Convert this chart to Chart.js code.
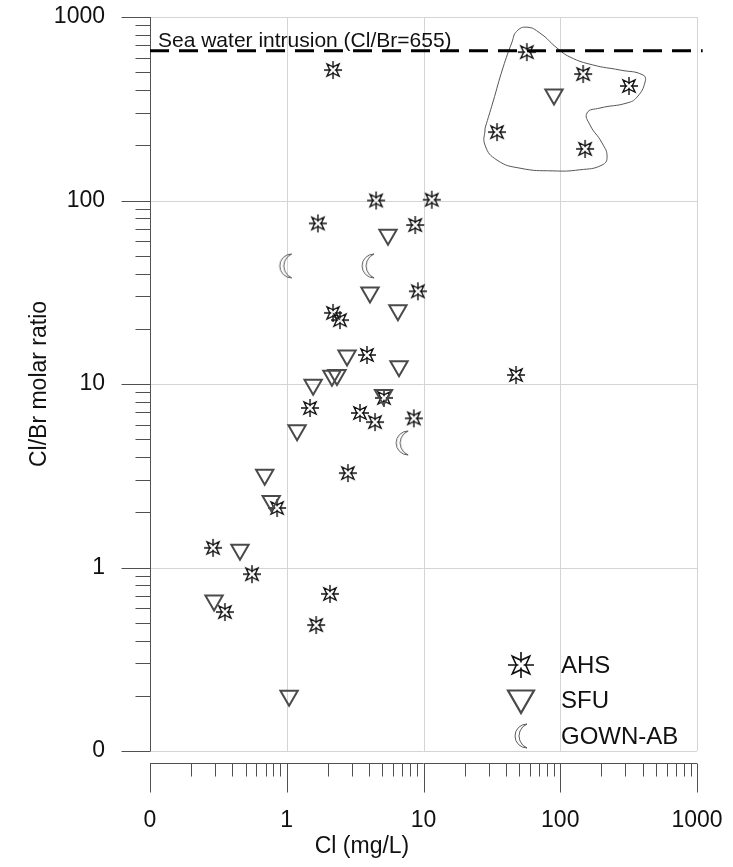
<!DOCTYPE html>
<html>
<head>
<meta charset="utf-8">
<script src="https://cdn.jsdelivr.net/npm/chart.js@4/dist/chart.umd.min.js"></script>
<style>
    html, body { margin: 0; padding: 0; background: #fff; }
    #wrap { width: 733px; height: 867px; }
</style>
</head>
<body>
<div id="wrap"><canvas id="ratioChart"></canvas></div>
<script>
// Cl (mg/L) vs Cl/Br molar ratio, one pair of arrays per sampling group
var ahsCl    = [2.18, 57, 147, 318, 34.5, 152, 4.5, 11.5, 1.69, 8.7, 9.1, 2.18, 2.45, 3.86, 47.5,
                5.14, 1.48, 3.43, 4.42, 8.5, 2.8, 0.85, 0.289, 0.557, 0.353, 2.07, 1.64];
var ahsRatio = [514, 644, 489, 421, 236, 191, 100, 101, 75, 73.5, 32, 24.4, 22.3, 14.4, 11.2,
                8.4, 7.4, 6.95, 6.2, 6.5, 3.27, 2.11, 1.28, 0.92, 0.572, 0.718, 0.486];

var sfuCl    = [90, 5.5, 4.06, 6.5, 2.76, 6.62, 2.14, 2.33, 1.56, 5.1, 1.19, 0.69, 0.77, 0.455, 0.294, 1.04];
var sfuRatio = [378, 65, 31.5, 25.2, 14.3, 12.5, 11.1, 11.2, 9.9, 8.7, 5.6, 3.2, 2.3, 1.25, 0.66, 0.2];

var gownCl    = [1.0, 4.0, 7.1];
var gownRatio = [44, 44, 4.77];

// sea water reference ratio
var seaWaterRatio = 655;
var seaWaterCl = [0.1, 1100];

// outline drawn around the high-Cl cluster
var clusterCl    = [28.2, 32.2, 38.1, 44.4, 48, 57, 71, 94.6, 118, 173, 274, 403, 417, 364, 308,
                    195, 157, 165, 202, 220, 202, 139, 88.5, 50.8, 34.5, 28.2, 28.2];
var clusterRatio = [248, 344, 528, 731, 835, 880, 818, 678, 605, 548, 514, 483, 442, 366, 340,
                    319, 300, 258, 206, 173, 156, 147, 145, 150, 166, 200, 248];

// axis ticks
var majorTicks = [0.1, 1, 10, 100, 1000];
var tickLabels = ['0', '1', '10', '100', '1000'];

var FONT = "'Liberation Sans', Arial, sans-serif";

function pairs(xs, ys) {
    return xs.map(function (x, i) { return { x: x, y: ys[i] }; });
}

// sparkle marker: four-point star with spikes on the axes
function makeStar(s, lw) {
    var n = Math.ceil(s * 2 + 4);
    var c = document.createElement('canvas');
    c.width = n; c.height = n;
    var g = c.getContext('2d');
    var m = n / 2;
    g.strokeStyle = '#111';
    g.lineWidth = lw;
    g.beginPath();
    for (var i = 0; i < 8; i++) {
        var a = i * Math.PI / 4 - Math.PI / 2;
        var r = (i % 2 === 0) ? s * 0.36 : s * 0.95;
        var px = m + r * Math.cos(a), py = m + r * Math.sin(a);
        if (i === 0) g.moveTo(px, py); else g.lineTo(px, py);
    }
    g.closePath();
    g.stroke();
    g.beginPath();
    g.moveTo(m, m - s); g.lineTo(m, m - s * 0.2);
    g.moveTo(m, m + s); g.lineTo(m, m + s * 0.2);
    g.moveTo(m - s, m); g.lineTo(m - s * 0.2, m);
    g.moveTo(m + s, m); g.lineTo(m + s * 0.2, m);
    g.stroke();
    return c;
}

// crescent marker opening to the right
function makeMoon(k) {
    var n = Math.ceil(30 * k);
    var c = document.createElement('canvas');
    c.width = n; c.height = n;
    var g = c.getContext('2d');
    var m = n / 2;
    g.strokeStyle = '#5a5a5a';
    g.lineWidth = 1;
    g.beginPath();
    g.arc(m + 5 * k, m, 12 * k, -Math.PI / 2, Math.PI / 2, true);
    var a1 = Math.atan2(12, -5);
    g.arc(m + 10 * k, m, 13 * k, a1, 2 * Math.PI - a1, false);
    g.closePath();
    g.stroke();
    return c;
}

var starMark = makeStar(9, 1.4);
var starLegend = makeStar(13, 1.6);
var moonMark = makeMoon(1);

var axesPlugin = {
    id: 'axesPlugin',
    beforeDatasetsDraw: function (chart) {
        var ctx = chart.ctx, area = chart.chartArea;
        var xs = chart.scales.x, ys = chart.scales.y;
        var minor = [];
        majorTicks.slice(0, -1).forEach(function (d) {
            for (var k = 2; k <= 9; k++) minor.push(d * k);
        });
        ctx.save();

        // decade grid and frame
        ctx.strokeStyle = '#d4d4d4';
        ctx.lineWidth = 1;
        ctx.beginPath();
        majorTicks.forEach(function (v) {
            var px = Math.round(xs.getPixelForValue(v)) + 0.5;
            var py = Math.round(ys.getPixelForValue(v)) + 0.5;
            ctx.moveTo(px, area.top); ctx.lineTo(px, area.bottom);
            ctx.moveTo(area.left, py); ctx.lineTo(area.right, py);
        });
        ctx.stroke();

        // y axis on the left
        var yl = Math.round(area.left) + 0.5;
        ctx.strokeStyle = '#505050';
        ctx.beginPath();
        ctx.moveTo(yl, area.top); ctx.lineTo(yl, area.bottom);
        majorTicks.forEach(function (v) {
            var py = Math.round(ys.getPixelForValue(v)) + 0.5;
            ctx.moveTo(yl - 29, py); ctx.lineTo(yl, py);
        });
        minor.forEach(function (v) {
            var py = Math.round(ys.getPixelForValue(v)) + 0.5;
            ctx.moveTo(yl - 15, py); ctx.lineTo(yl, py);
        });
        ctx.stroke();

        // x axis, set below the plot
        var xb = Math.round(area.bottom) + 12.5;
        ctx.beginPath();
        ctx.moveTo(area.left, xb); ctx.lineTo(area.right, xb);
        majorTicks.forEach(function (v) {
            var px = Math.round(xs.getPixelForValue(v)) + 0.5;
            ctx.moveTo(px, xb); ctx.lineTo(px, xb + 29);
        });
        minor.forEach(function (v) {
            var px = Math.round(xs.getPixelForValue(v)) + 0.5;
            ctx.moveTo(px, xb); ctx.lineTo(px, xb + 13);
        });
        ctx.stroke();

        // tick labels
        ctx.fillStyle = '#111';
        ctx.font = '23px ' + FONT;
        ctx.textAlign = 'right';
        ctx.textBaseline = 'middle';
        majorTicks.forEach(function (v, i) {
            ctx.fillText(tickLabels[i], area.left - 45, ys.getPixelForValue(v));
        });
        ctx.textAlign = 'center';
        majorTicks.forEach(function (v, i) {
            ctx.fillText(tickLabels[i], xs.getPixelForValue(v), xb + 57);
        });

        // axis titles
        ctx.fillText('Cl (mg/L)', 362, xb + 83);
        ctx.save();
        ctx.translate(40, (area.top + area.bottom) / 2);
        ctx.rotate(-Math.PI / 2);
        ctx.fillText('Cl/Br molar ratio', 0, 0);
        ctx.restore();

        // sea water label
        ctx.font = '21px ' + FONT;
        ctx.textAlign = 'left';
        ctx.textBaseline = 'alphabetic';
        ctx.fillText('Sea water intrusion (Cl/Br=' + seaWaterRatio + ')', 158, 47);
        ctx.restore();
    },
    afterDatasetsDraw: function (chart) {
        var ctx = chart.ctx;
        var lx = 521, rows = [665, 700, 736];
        ctx.save();
        ctx.drawImage(starLegend, lx - starLegend.width / 2, rows[0] - starLegend.height / 2);
        // legend triangle
        var r = 15;
        ctx.strokeStyle = '#4a4a4a';
        ctx.lineWidth = 2.2;
        ctx.beginPath();
        ctx.moveTo(lx - r * 0.866, rows[1] - r * 0.5 - 2);
        ctx.lineTo(lx + r * 0.866, rows[1] - r * 0.5 - 2);
        ctx.lineTo(lx, rows[1] + r - 2);
        ctx.closePath();
        ctx.stroke();
        ctx.drawImage(moonMark, lx - moonMark.width / 2 + 1, rows[2] - moonMark.height / 2);
        ctx.fillStyle = '#111';
        ctx.font = '24px ' + FONT;
        ctx.textAlign = 'left';
        ctx.textBaseline = 'middle';
        ['AHS', 'SFU', 'GOWN-AB'].forEach(function (t, i) {
            ctx.fillText(t, 561, rows[i] + 1);
        });
        ctx.restore();
    }
};

var ctx = document.getElementById('ratioChart').getContext('2d');
new Chart(ctx, {
    type: 'scatter',
    data: {
        datasets: [{
            label: 'Sea water intrusion',
            data: seaWaterCl.map(function (x) { return { x: x, y: seaWaterRatio }; }),
            showLine: true,
            borderColor: '#000',
            borderWidth: 3,
            borderDash: [19, 10],
            pointRadius: 0,
            clip: false
        }, {
            label: 'cluster',
            data: pairs(clusterCl, clusterRatio),
            showLine: true,
            tension: 0.5,
            borderColor: '#555',
            borderWidth: 1,
            pointRadius: 0
        }, {
            label: 'GOWN-AB',
            data: pairs(gownCl, gownRatio),
            pointStyle: moonMark,
            pointRadius: 10
        }, {
            label: 'SFU',
            data: pairs(sfuCl, sfuRatio),
            pointStyle: 'triangle',
            rotation: 180,
            pointRadius: 10,
            borderColor: '#4a4a4a',
            borderWidth: 2,
            backgroundColor: 'rgba(0,0,0,0)'
        }, {
            label: 'AHS',
            data: pairs(ahsCl, ahsRatio),
            pointStyle: starMark,
            pointRadius: 10
        }]
    },
    options: {
        responsive: true,
        maintainAspectRatio: false,
        animation: false,
        layout: {
            padding: { left: 150, right: 36, top: 17, bottom: 116 }
        },
        plugins: {
            legend: { display: false },
            tooltip: { enabled: false }
        },
        scales: {
            x: { type: 'logarithmic', min: 0.1, max: 1000, display: false },
            y: { type: 'logarithmic', min: 0.1, max: 1000, display: false }
        }
    },
    plugins: [axesPlugin]
});
</script>
</body>
</html>
